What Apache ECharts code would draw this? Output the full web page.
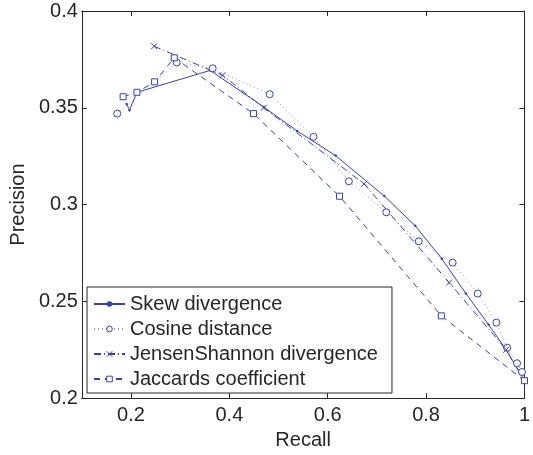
<!DOCTYPE html>
<html>
<head>
<meta charset="utf-8">
<script src="https://cdn.jsdelivr.net/npm/echarts@6/dist/echarts.min.js"></script>
<style>
  html, body { margin: 0; padding: 0; background: #fff; }
  #chart { width: 533px; height: 455px; }
</style>
</head>
<body>
<div id="chart"></div>
<script>
// Precision / recall curves for four similarity measures
const seriesNames = ['Skew divergence', 'Cosine distance', 'JensenShannon divergence', 'Jaccards coefficient'];

// [recall, precision] pairs
const skewPoints = [
  [0.191, 0.352], [0.197, 0.3487], [0.212, 0.358], [0.361, 0.3693], [0.470, 0.3504],
  [0.538, 0.338], [0.616, 0.3253], [0.715, 0.3044], [0.778, 0.289], [0.832, 0.272],
  [0.881, 0.254], [0.927, 0.238], [0.960, 0.226], [1.0, 0.209]
];
const cosinePoints = [
  [0.172, 0.347], [0.293, 0.3734], [0.366, 0.3704], [0.482, 0.357], [0.571, 0.335],
  [0.643, 0.312], [0.719, 0.296], [0.785, 0.281], [0.854, 0.270], [0.905, 0.254],
  [0.943, 0.239], [0.965, 0.226], [0.985, 0.218], [0.995, 0.2135]
];
const jensenPoints = [
  [0.247, 0.3818], [0.386, 0.3668], [0.470, 0.350], [0.674, 0.3107], [0.847, 0.2597],
  [0.963, 0.225], [1.0, 0.209]
];
const jaccardPoints = [
  [0.184, 0.3557], [0.212, 0.358], [0.248, 0.3634], [0.288, 0.3758], [0.449, 0.347],
  [0.624, 0.3043], [0.831, 0.2425], [1.0, 0.209]
];

const xTicks = [0.2, 0.4, 0.6, 0.8, 1];

const blue = '#3a42a6';
const ink = '#262626';
const font = "'Liberation Sans', Arial, Helvetica, sans-serif";
const crossPath = 'path://M0,0L10,10M10,0L0,10';

const chart = echarts.init(document.getElementById('chart'), null, { renderer: 'canvas' });

const xBase = {
  type: 'value', min: 0.1, max: 1,
  splitLine: { show: false },
  axisLine: { lineStyle: { color: ink, width: 1 } },
  axisTick: { inside: true, length: 5, lineStyle: { color: ink }, customValues: xTicks }
};
const yBase = {
  type: 'value', min: 0.2, max: 0.4, interval: 0.05,
  splitLine: { show: false },
  axisLine: { lineStyle: { color: ink, width: 1 } },
  axisTick: { inside: true, length: 5, lineStyle: { color: ink } }
};

chart.setOption({
  animation: false,
  backgroundColor: '#fff',
  textStyle: { fontFamily: font },
  grid: { left: 77, right: 3, top: 11, bottom: 45, containLabel: false },
  xAxis: [
    Object.assign({}, xBase, {
      position: 'bottom',
      name: 'Recall', nameLocation: 'middle', nameGap: 24,
      nameTextStyle: { fontSize: 20, color: ink, fontFamily: font },
      axisLabel: { customValues: xTicks, fontSize: 20, color: ink, margin: 7, fontFamily: font }
    }),
    Object.assign({}, xBase, { position: 'top', axisLabel: { show: false } })
  ],
  yAxis: [
    Object.assign({}, yBase, {
      position: 'left',
      name: 'Precision', nameLocation: 'middle', nameGap: 46,
      nameTextStyle: { fontSize: 20, color: ink, fontFamily: font },
      axisLabel: { fontSize: 20, color: ink, margin: 4, fontFamily: font }
    }),
    Object.assign({}, yBase, { position: 'right', axisLabel: { show: false } })
  ],
  legend: {
    orient: 'vertical',
    left: 87, top: 287,
    padding: [7, 14, 4, 6],
    itemGap: 5,
    itemWidth: 31,
    itemHeight: 7,
    borderColor: ink, borderWidth: 1,
    backgroundColor: '#fff',
    itemStyle: { borderWidth: 1 },
    textStyle: { fontSize: 20, color: ink, fontFamily: font },
    data: seriesNames
  },
  series: [
    {
      name: seriesNames[0], type: 'line', data: skewPoints,
      symbol: 'circle', symbolSize: 2.5,
      itemStyle: { color: blue },
      lineStyle: { color: blue, width: 1, type: 'solid' }
    },
    {
      name: seriesNames[1], type: 'line', data: cosinePoints,
      symbol: 'circle', symbolSize: 7,
      itemStyle: { color: '#fff', borderColor: blue, borderWidth: 1 },
      lineStyle: { color: '#8a90cc', width: 1, type: [1, 3] }
    },
    {
      name: seriesNames[2], type: 'line', data: jensenPoints,
      symbol: crossPath, symbolSize: 6,
      itemStyle: { color: 'transparent', borderColor: blue, borderWidth: 1 },
      lineStyle: { color: blue, width: 1, type: [7, 3, 1, 3] }
    },
    {
      name: seriesNames[3], type: 'line', data: jaccardPoints,
      symbol: 'rect', symbolSize: 6,
      itemStyle: { color: '#fff', borderColor: blue, borderWidth: 1 },
      lineStyle: { color: blue, width: 1, type: [6, 5] }
    }
  ]
});
</script>
</body>
</html>
